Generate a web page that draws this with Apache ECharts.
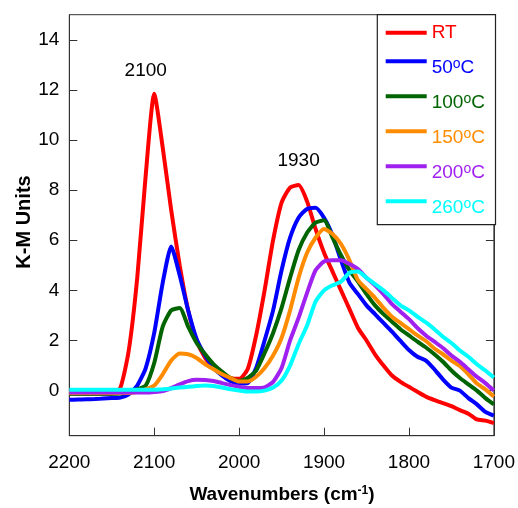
<!DOCTYPE html>
<html>
<head>
<meta charset="utf-8">
<script src="https://cdn.jsdelivr.net/npm/echarts@6/dist/echarts.min.js"></script>
<style>html,body{margin:0;padding:0;background:#fff}#c{width:518px;height:508px}</style>
</head>
<body>
<div id="c"></div>
<script>
// Wavenumbers (cm-1)
var wavenumbers = [2200,2190,2180,2170,2160,2150,2140,2130,2120,2110,2100,2090,2080,2070,2060,2050,2040,2030,2020,2010,2000,1990,1980,1970,1960,1950,1940,1930,1920,1910,1900,1890,1880,1870,1860,1850,1840,1830,1820,1810,1800,1790,1780,1770,1760,1750,1740,1730,1720,1710,1700];
var seriesNames = ['RT','50°C','100°C','150°C','200°C','260°C'];
var valsRT   = [-0.12,-0.12,-0.12,-0.12,-0.12,-0.12,0.1,1.6,4.5,8.6,11.85,9.7,7.2,5.0,3.2,2.0,1.3,0.9,0.65,0.5,0.47,0.85,2.2,4.0,6.0,7.5,8.1,8.2,7.55,6.45,5.5,4.75,4.0,3.25,2.5,2.0,1.45,1.0,0.6,0.35,0.15,-0.05,-0.24,-0.38,-0.5,-0.62,-0.78,-0.92,-1.15,-1.2,-1.3];
var vals50   = [-0.37,-0.36,-0.35,-0.34,-0.32,-0.3,-0.28,-0.15,0.2,0.9,2.3,4.3,5.75,4.6,3.2,2.05,1.4,0.9,0.6,0.38,0.28,0.3,0.9,2.0,3.2,4.8,6.1,6.9,7.25,7.3,6.9,6.2,5.2,4.3,3.85,3.4,3.05,2.7,2.35,1.98,1.62,1.35,1.2,0.85,0.45,0.12,0.0,-0.3,-0.55,-0.85,-1.0];
var vals100  = [-0.13,-0.13,-0.13,-0.13,-0.13,-0.13,-0.12,-0.08,0.05,0.2,1.1,2.55,3.2,3.3,2.55,1.9,1.45,1.05,0.75,0.5,0.38,0.5,0.8,1.5,2.3,3.3,4.5,5.6,6.3,6.7,6.8,6.1,5.4,4.8,4.35,3.85,3.4,3.05,2.75,2.45,2.2,1.95,1.72,1.45,1.15,0.8,0.5,0.25,0.0,-0.3,-0.55];
var vals150  = [-0.1,-0.1,-0.1,-0.1,-0.1,-0.1,-0.1,-0.1,-0.05,0.05,0.2,0.65,1.2,1.48,1.45,1.3,1.05,0.85,0.65,0.5,0.36,0.36,0.55,0.9,1.4,2.1,3.2,4.5,5.5,6.1,6.45,6.25,5.85,5.2,4.4,4.05,3.7,3.3,2.95,2.7,2.45,2.2,1.98,1.68,1.45,1.2,0.98,0.65,0.28,0.05,-0.24];
var vals200  = [-0.08,-0.08,-0.08,-0.08,-0.08,-0.08,-0.08,-0.08,-0.08,-0.08,-0.06,-0.02,0.1,0.25,0.38,0.43,0.42,0.38,0.3,0.22,0.15,0.1,0.1,0.13,0.35,0.9,2.0,2.9,3.9,4.8,5.15,5.2,5.2,5.05,4.85,4.5,4.2,3.85,3.45,3.15,2.85,2.5,2.2,1.95,1.7,1.4,1.15,0.85,0.55,0.3,0.0];
var vals260  = [0.03,0.03,0.03,0.03,0.03,0.03,0.03,0.03,0.03,0.03,0.03,0.05,0.08,0.12,0.15,0.18,0.2,0.18,0.12,0.05,0.0,-0.04,-0.04,0.0,0.12,0.4,1.0,1.85,2.6,3.55,4.0,4.2,4.35,4.7,4.75,4.5,4.25,4.0,3.7,3.4,3.2,2.95,2.72,2.45,2.15,1.9,1.6,1.35,1.05,0.8,0.52];
var allVals = [valsRT, vals50, vals100, vals150, vals200, vals260];
var colors = ['#ff0000','#0000ff','#006400','#ff8c00','#a020f0','#00ffff'];
var yTicks = [0,2,4,6,8,10,12,14];
var annotations = [{text:'2100', wn:2110, v:12.76}, {text:'1930', wn:1930, v:9.17}];

var FONT = '"Liberation Sans", Arial, sans-serif';
var chart = echarts.init(document.getElementById('c'), null, {renderer:'canvas'});

function legendRich(c){
  return {
    t:{color:c, fontSize:19, fontFamily:FONT, lineHeight:21},
    s:{color:c, fontSize:14, fontFamily:FONT, lineHeight:2, verticalAlign:'top'}
  };
}

var series = seriesNames.map(function(n, k){
  var s = {
    name:n, type:'line', showSymbol:false, smooth:0.2,
    lineStyle:{width:4, color:colors[k]}, itemStyle:{color:colors[k]},
    data: wavenumbers.map(function(w,i){return [w, allVals[k][i]];}),
    z: 2+k
  };
  if(k===0){
    s.markPoint = {
      symbol:'circle', symbolSize:0, silent:true,
      label:{show:true, position:'inside', color:'#000', fontSize:19, fontFamily:FONT, formatter:function(p){return p.name;}},
      data: annotations.map(function(a){return {name:a.text, coord:[a.wn, a.v]};})
    };
  }
  return s;
});

var option = {
  animation:false,
  backgroundColor:'#fff',
  grid:{left:69.3, right:23.3, top:14.7, bottom:72.3, show:true, borderColor:'#333', borderWidth:1, backgroundColor:'transparent'},
  xAxis:[{
    type:'value', inverse:true, min:1700, max:2200, interval:100,
    axisLine:{show:true, onZero:false, lineStyle:{color:'#333', width:1}},
    axisTick:{show:true, inside:true, length:8, lineStyle:{color:'#333'}},
    axisLabel:{color:'#000', fontSize:19, fontFamily:FONT, margin:18, formatter:function(v){return String(v);}},
    splitLine:{show:false}
  }],
  yAxis:[{
    type:'value', min:-1.8, max:15,
    axisLine:{show:true, onZero:false, lineStyle:{color:'#333', width:1}},
    axisTick:{show:true, inside:true, length:8, lineStyle:{color:'#333'}, customValues:yTicks},
    axisLabel:{color:'#000', fontSize:19, fontFamily:FONT, margin:10, customValues:yTicks, formatter:function(v){return String(v);}},
    splitLine:{show:false}
  },{
    type:'value', min:-1.8, max:15, position:'right',
    axisLine:{show:true, onZero:false, lineStyle:{color:'#333', width:1}},
    axisTick:{show:true, inside:true, length:8, lineStyle:{color:'#333'}, customValues:yTicks},
    axisLabel:{show:false},
    splitLine:{show:false}
  }],
  legend:{
    orient:'vertical', left:377.3, top:14.7,
    padding:[7.6,10.6,6.4,8.4], itemGap:1,
    itemWidth:41, itemHeight:4, icon:'rect',
    backgroundColor:'#fff', borderColor:'#222', borderWidth:1.2,
    formatter:function(name){
      if(name==='RT') return '{t|RT}';
      return '{t|' + name.replace('°C','') + '}{s|o}{t|C}';
    },
    data: seriesNames.map(function(n,k){
      return {name:n, itemStyle:{color:colors[k]}, textStyle:{color:colors[k], fontSize:19, fontFamily:FONT, lineHeight:21, padding: k===0 ? [0,0,0,0] : [13,0,0,0], rich:legendRich(colors[k])}};
    }),
    selectedMode:false
  },
  graphic:[
    {type:'text', x:24, y:222, rotation:Math.PI/2, style:{text:'K-M Units', fill:'#000', font:'bold 20px ' + FONT, textAlign:'center', textVerticalAlign:'middle'}},
    {type:'text', x:282, y:495, style:{text:'{b|Wavenumbers (cm}{s|-1}{b|)}', textAlign:'center', textVerticalAlign:'middle',
      rich:{b:{fill:'#000', font:'bold 19px ' + FONT, lineHeight:20}, s:{fill:'#000', font:'bold 12px ' + FONT, lineHeight:6, verticalAlign:'top'}}}}
  ],
  series: series
};
chart.setOption(option);
</script>
</body>
</html>
